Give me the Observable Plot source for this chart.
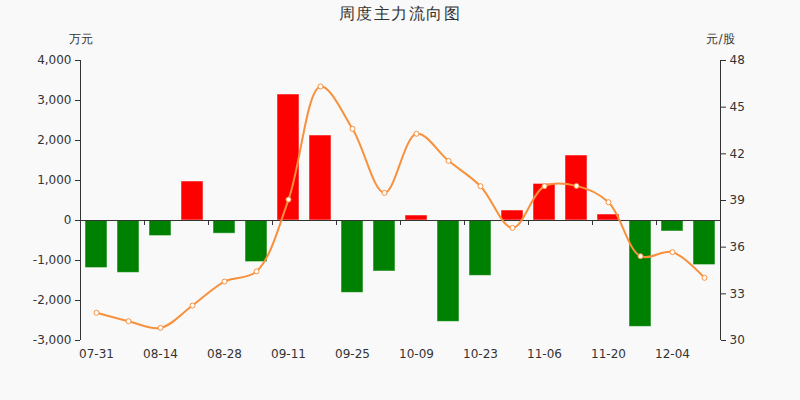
<!DOCTYPE html>
<html>
<head>
<meta charset="utf-8">
<script src="https://cdn.jsdelivr.net/npm/d3@7"></script>
<script src="https://cdn.jsdelivr.net/npm/@observablehq/plot@0.6"></script>
<style>
  html, body { margin: 0; padding: 0; background: #f9f9f9; }
  #wrap { position: relative; width: 800px; height: 400px; font-family: "DejaVu Sans", sans-serif; }
  #title { position: absolute; top: 4px; left: 0; width: 800px; text-align: center; font-size: 16px; letter-spacing: 1.5px; color: #333; }
</style>
</head>
<body>
<div id="wrap"><div id="title">周度主力流向图</div></div>
<script>
const dates = ["07-31","08-07","08-14","08-21","08-28","09-04","09-11","09-18","09-25","10-02",
               "10-09","10-16","10-23","10-30","11-06","11-13","11-20","11-27","12-04","12-11"];
const flows = [-1190,-1310,-390,975,-330,-1040,3150,2125,-1810,-1275,
               125,-2535,-1385,250,915,1625,150,-2660,-275,-1115];
const prices = [31.78,31.24,30.81,32.25,33.79,34.44,39.06,46.33,43.61,39.49,
                43.29,41.55,39.92,37.24,39.92,39.94,38.89,35.42,35.68,34.03];
const leftTicks = [-3000,-2000,-1000,0,1000,2000,3000,4000];
const rightTicks = [30,33,36,39,42,45,48];

const yMin = -3000, yMax = 4000, pMin = 30, pMax = 48;
const toMoney = p => yMin + (p - pMin) * (yMax - yMin) / (pMax - pMin);
const toPrice = m => pMin + (m - yMin) * (pMax - pMin) / (yMax - yMin);

const data = dates.map((d, i) => ({date: d, flow: flows[i], price: prices[i]}));
const labelDates = dates.filter((d, i) => i % 2 === 0);
const orange = "#f7913d";

const chart = Plot.plot({
  width: 800,
  height: 400,
  marginLeft: 80,
  marginRight: 80,
  marginTop: 60,
  marginBottom: 60,
  style: {background: "#f9f9f9", fontFamily: "DejaVu Sans, sans-serif", fontSize: "12px", color: "#333"},
  x: {type: "band", domain: dates, paddingInner: 0.3, paddingOuter: 0.15},
  y: {domain: [yMin, yMax]},
  color: {type: "identity"},
  marks: [
    Plot.barY(data, {x: "date", y: "flow", fill: d => d.flow >= 0 ? "#ff0000" : "#008000",
      stroke: "#ffffff", strokeOpacity: 0.5, strokeWidth: 1}),
    Plot.ruleY([0], {stroke: "#333"}),
    Plot.ruleX(labelDates, {x: d => d, y1: 0, y2: -125, dx: -16, stroke: "#333"}),
    Plot.ruleX([dates[0]], {x: d => d, y1: yMin, y2: yMax, dx: -16, stroke: "#333"}),
    Plot.ruleX([dates[dates.length - 1]], {x: d => d, y1: yMin, y2: yMax, dx: 16, stroke: "#333"}),
    Plot.line(data, {x: "date", y: d => toMoney(d.price), curve: "catmull-rom", stroke: orange, strokeWidth: 2}),
    Plot.dot(data, {x: "date", y: d => toMoney(d.price), r: 2.5, fill: "#ffffff", stroke: orange, strokeWidth: 1}),
    Plot.axisY({ticks: leftTicks, tickSize: 5, tickPadding: 4, label: null,
      tickFormat: d => d.toLocaleString("en-US")}),
    Plot.axisY({anchor: "right", ticks: rightTicks.map(toMoney), tickSize: 5, tickPadding: 4, label: null,
      tickFormat: m => String(Math.round(toPrice(m)))}),
    Plot.axisX({ticks: labelDates, tickSize: 0, tickPadding: 9, label: null}),
    Plot.text(["万元"], {frameAnchor: "top-left", dy: -26, textAnchor: "middle", fill: "#333"}),
    Plot.text(["元/股"], {frameAnchor: "top-right", dy: -26, textAnchor: "middle", fill: "#333"})
  ]
});
document.getElementById("wrap").appendChild(chart);
</script>
</body>
</html>
